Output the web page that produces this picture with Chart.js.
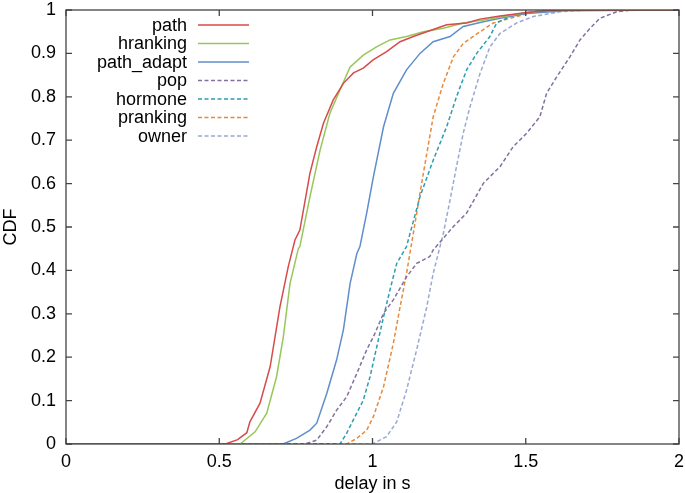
<!DOCTYPE html>
<html>
<head>
<meta charset="utf-8">
<script src="https://cdn.jsdelivr.net/npm/chart.js@4.4.1/dist/chart.umd.min.js"></script>
<style>
  html, body { margin: 0; padding: 0; background: #fff; }
  canvas { display: block; }
</style>
</head>
<body>
<canvas id="cdf" width="685" height="493"></canvas>
<script>
// series names, in legend order
var seriesNames = ["path", "hranking", "path_adapt", "pop", "hormone", "pranking", "owner"];
var seriesColors = ["#d64b4b", "#99c65a", "#5f8ecb", "#83709f", "#2b9db0", "#e8893a", "#9aa8d2"];
var dashed = [false, false, false, true, true, true, true];

// delay values (s) and CDF values
var pathX = [0, 0.52, 0.56, 0.59, 0.60, 0.633, 0.666, 0.698, 0.725, 0.747, 0.763, 0.796, 0.818, 0.84, 0.872, 0.905, 0.938, 0.97, 1.002, 1.046, 1.09, 1.133, 1.177, 1.242, 1.307, 1.35, 1.416, 1.503, 1.6, 2];
var pathY = [0, 0, 0.01, 0.026, 0.051, 0.094, 0.178, 0.316, 0.408, 0.47, 0.493, 0.624, 0.685, 0.739, 0.793, 0.831, 0.855, 0.866, 0.885, 0.904, 0.927, 0.939, 0.95, 0.966, 0.97, 0.979, 0.986, 0.994, 1, 1];

var hrankX = [0, 0.568, 0.617, 0.655, 0.687, 0.709, 0.731, 0.758, 0.763, 0.796, 0.829, 0.861, 0.894, 0.927, 0.97, 1.013, 1.057, 1.111, 1.166, 1.231, 1.296, 1.362, 1.438, 1.503, 1.6, 2];
var hrankY = [0, 0, 0.028, 0.071, 0.155, 0.247, 0.37, 0.45, 0.455, 0.57, 0.677, 0.762, 0.816, 0.869, 0.896, 0.915, 0.931, 0.939, 0.95, 0.958, 0.97, 0.977, 0.986, 0.994, 1, 1];

var adaptX = [0, 0.708, 0.752, 0.796, 0.818, 0.851, 0.883, 0.905, 0.927, 0.949, 0.959, 0.981, 1.003, 1.036, 1.068, 1.111, 1.155, 1.198, 1.253, 1.296, 1.362, 1.416, 1.503, 1.63, 2];
var adaptY = [0, 0, 0.013, 0.032, 0.048, 0.117, 0.194, 0.263, 0.37, 0.439, 0.455, 0.532, 0.616, 0.731, 0.808, 0.862, 0.9, 0.927, 0.939, 0.962, 0.973, 0.981, 0.992, 0.998, 1];

var popX = [0, 0.78, 0.818, 0.851, 0.883, 0.916, 0.949, 0.981, 1.003, 1.036, 1.068, 1.111, 1.144, 1.187, 1.198, 1.264, 1.307, 1.362, 1.416, 1.459, 1.503, 1.546, 1.568, 1.601, 1.644, 1.677, 1.71, 1.742, 1.797, 1.85, 2];
var popY = [0, 0, 0.009, 0.04, 0.078, 0.109, 0.163, 0.217, 0.247, 0.301, 0.332, 0.385, 0.416, 0.432, 0.447, 0.501, 0.532, 0.601, 0.639, 0.685, 0.716, 0.754, 0.808, 0.846, 0.892, 0.931, 0.958, 0.981, 0.996, 1, 1];

var hormoneX = [0, 0.894, 0.916, 0.937, 0.97, 0.992, 1.014, 1.036, 1.057, 1.079, 1.111, 1.155, 1.198, 1.242, 1.274, 1.307, 1.34, 1.383, 1.405, 1.449, 1.52, 1.6, 2];
var hormoneY = [0, 0, 0.025, 0.055, 0.101, 0.155, 0.224, 0.293, 0.355, 0.416, 0.455, 0.57, 0.654, 0.731, 0.8, 0.862, 0.9, 0.939, 0.97, 0.985, 0.996, 1, 1];

var prankX = [0, 0.916, 0.949, 0.981, 1.003, 1.036, 1.068, 1.09, 1.111, 1.133, 1.166, 1.198, 1.231, 1.264, 1.296, 1.351, 1.394, 1.47, 1.53, 1.6, 2];
var prankY = [0, 0, 0.013, 0.032, 0.063, 0.132, 0.232, 0.316, 0.393, 0.485, 0.624, 0.754, 0.831, 0.892, 0.923, 0.95, 0.97, 0.985, 0.996, 1, 1];

var ownerX = [0, 1.0, 1.046, 1.079, 1.111, 1.144, 1.177, 1.198, 1.231, 1.253, 1.274, 1.296, 1.318, 1.351, 1.383, 1.416, 1.47, 1.525, 1.612, 1.7, 2];
var ownerY = [0, 0, 0.017, 0.051, 0.124, 0.217, 0.316, 0.393, 0.485, 0.562, 0.639, 0.716, 0.777, 0.854, 0.915, 0.946, 0.97, 0.985, 0.996, 1, 1];

var xTicks = [0, 0.5, 1, 1.5, 2];
var yTicks = [0, 0.1, 0.2, 0.3, 0.4, 0.5, 0.6, 0.7, 0.8, 0.9, 1];

var allX = [pathX, hrankX, adaptX, popX, hormoneX, prankX, ownerX];
var allY = [pathY, hrankY, adaptY, popY, hormoneY, prankY, ownerY];

function toPoints(xs, ys) {
    var pts = [];
    for (var i = 0; i < xs.length; i++) {
        pts.push({x: xs[i], y: ys[i]});
    }
    return pts;
}

var datasets = [];
for (var i = 0; i < seriesNames.length; i++) {
    datasets.push({
        label: seriesNames[i],
        data: toPoints(allX[i], allY[i]),
        borderColor: seriesColors[i],
        borderWidth: 1.5,
        borderDash: dashed[i] ? [4, 2.5] : [],
        pointRadius: 0,
        showLine: true,
        tension: 0
    });
}

var FONT = "'Liberation Sans', Arial, Helvetica, sans-serif";

// gnuplot-ish frame: box, inward ticks on all four sides, and the legend at top left
var framePlugin = {
    id: 'frame',
    afterDraw: function(chart) {
        var ctx = chart.ctx;
        var a = chart.chartArea;
        var xs = chart.scales.x, ys = chart.scales.y;
        var tl = 6;
        ctx.save();
        ctx.strokeStyle = "#444";
        ctx.lineWidth = 1.3;
        ctx.strokeRect(a.left, a.top, a.right - a.left, a.bottom - a.top);
        ctx.beginPath();
        xTicks.forEach(function(v) {
            var px = xs.getPixelForValue(v);
            ctx.moveTo(px, a.bottom); ctx.lineTo(px, a.bottom - tl);
            ctx.moveTo(px, a.top); ctx.lineTo(px, a.top + tl);
        });
        yTicks.forEach(function(v) {
            var py = ys.getPixelForValue(v);
            ctx.moveTo(a.left, py); ctx.lineTo(a.left + tl, py);
            ctx.moveTo(a.right, py); ctx.lineTo(a.right - tl, py);
        });
        ctx.stroke();

        // legend
        ctx.font = "18px " + FONT;
        ctx.textAlign = "right";
        ctx.textBaseline = "middle";
        var textRight = 187, lineL = 198, lineR = 249, top = 25, step = 18.5;
        chart.data.datasets.forEach(function(ds, k) {
            var y = top + k * step;
            ctx.fillStyle = "#000";
            ctx.fillText(ds.label, textRight, y + 1);
            ctx.strokeStyle = ds.borderColor;
            ctx.lineWidth = ds.borderWidth;
            ctx.setLineDash(ds.borderDash);
            ctx.beginPath();
            ctx.moveTo(lineL, y); ctx.lineTo(lineR, y);
            ctx.stroke();
        });
        ctx.restore();
    }
};

function plainLabel(v) { return String(v); }

var cdfChart = new Chart(document.getElementById("cdf"), {
    type: 'scatter',
    data: {datasets: datasets},
    options: {
        responsive: false,
        animation: false,
        devicePixelRatio: 1,
        layout: {padding: {top: 10, right: 6, left: 0, bottom: 0}},
        plugins: {legend: {display: false}, tooltip: {enabled: false}},
        scales: {
            x: {
                type: 'linear', min: 0, max: 2,
                afterBuildTicks: function(scale) { scale.ticks = xTicks.map(function(v) { return {value: v}; }); },
                afterFit: function(scale) { scale.height = 49; scale.paddingLeft = 0; scale.paddingRight = 0; },
                grid: {display: false, drawTicks: false},
                border: {display: false},
                ticks: {color: "#000", padding: 7, maxRotation: 0, callback: plainLabel, font: {family: FONT, size: 18}},
                title: {display: true, text: "delay in s", color: "#000", padding: {top: 0, bottom: 0},
                        font: {family: FONT, size: 18, lineHeight: 1}}
            },
            y: {
                type: 'linear', min: 0, max: 1,
                afterBuildTicks: function(scale) { scale.ticks = yTicks.map(function(v) { return {value: v}; }); },
                afterFit: function(scale) { scale.width = 66; scale.paddingTop = 0; scale.paddingBottom = 0; },
                grid: {display: false, drawTicks: false},
                border: {display: false},
                ticks: {color: "#000", padding: 10, callback: plainLabel, font: {family: FONT, size: 18}},
                title: {display: true, text: "CDF", color: "#000", padding: {top: 2, bottom: 0},
                        font: {family: FONT, size: 18, lineHeight: 1}}
            }
        }
    },
    plugins: [framePlugin]
});
</script>
</body>
</html>
